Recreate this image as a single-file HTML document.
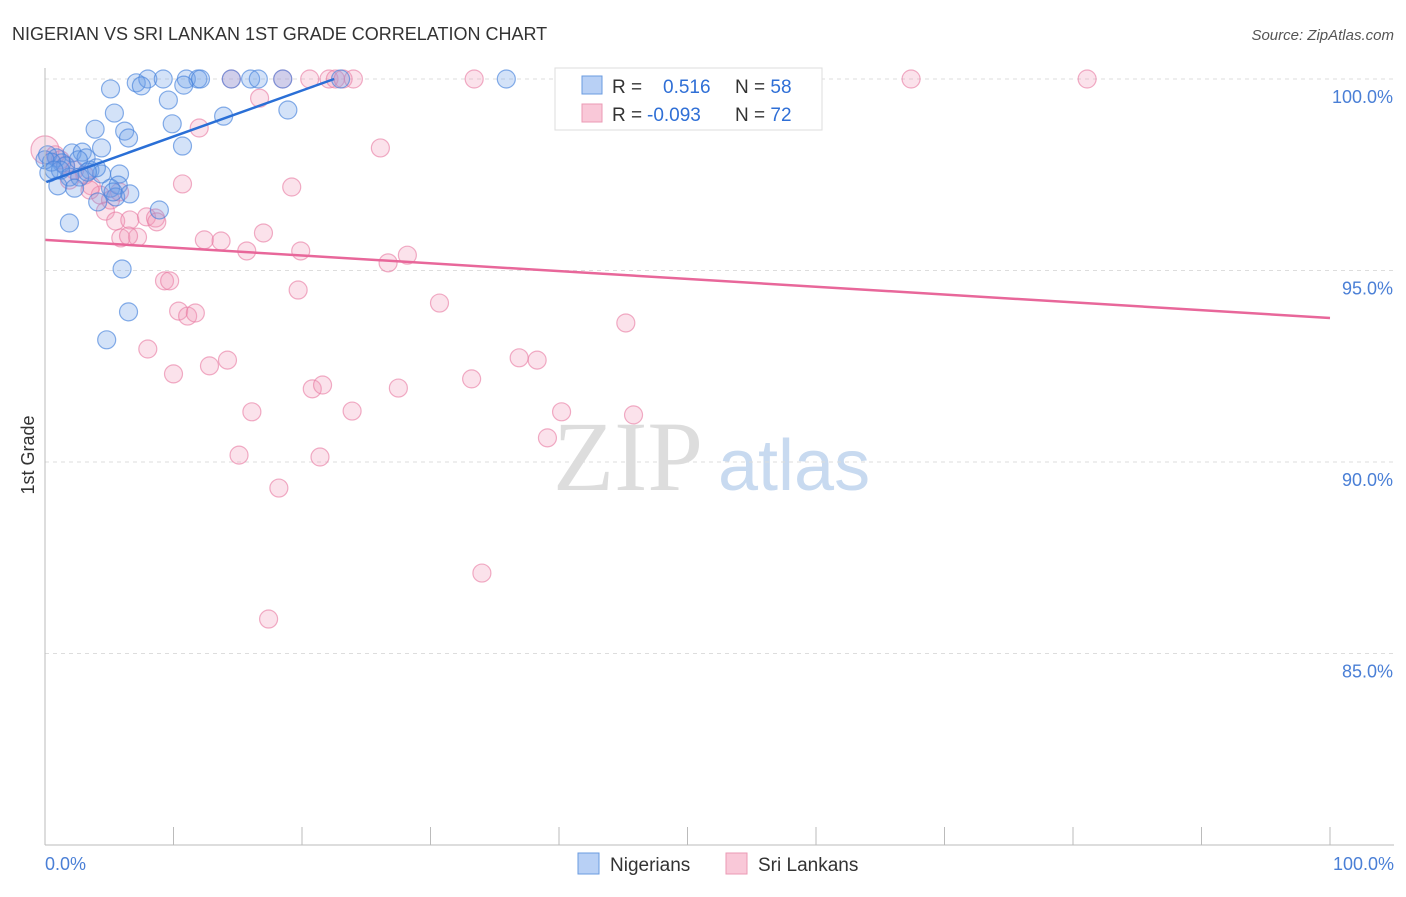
<!DOCTYPE html>
<html><head><meta charset="utf-8"><style>
body{margin:0;background:#fff;font-family:"Liberation Sans",sans-serif;}
svg text{font-family:"Liberation Sans",sans-serif;}
</style></head><body>
<svg width="1406" height="892" id="c">
<text x="12" y="40" font-size="18" fill="#333">NIGERIAN VS SRI LANKAN 1ST GRADE CORRELATION CHART</text>
<text x="1394" y="40" font-size="15" fill="#555" font-style="italic" text-anchor="end">Source: ZipAtlas.com</text>
<text x="34" y="455" font-size="18" fill="#333" transform="rotate(-90 34 455)" text-anchor="middle">1st Grade</text>
<text x="553" y="490" font-size="100" fill="#ddd" style="font-family:'Liberation Serif',serif">ZIP</text>
<text x="718" y="490" font-size="72" fill="#c8daf0">atlas</text>
<g id="grid"></g><g id="pts"></g><g id="lines"></g>
<line x1="45" y1="68" x2="45" y2="845" stroke="#bbb"/>
<line x1="45" y1="845" x2="1394" y2="845" stroke="#bbb"/>
<text x="45" y="870" font-size="18" fill="#4a7fd6">0.0%</text>
<text x="1394" y="870" font-size="18" fill="#4a7fd6" text-anchor="end">100.0%</text>
<g>
<rect x="555" y="68" width="267" height="62" fill="#fff" stroke="#ddd"/>
<rect x="582" y="76" width="20" height="18" fill="#b8d0f5" stroke="#6a9be0"/>
<rect x="582" y="104" width="20" height="18" fill="#f9c8d8" stroke="#eb9ab4"/>
<text x="612" y="93" font-size="19" fill="#333">R = <tspan fill="#2f6fd6" x="663">0.516</tspan><tspan x="735" fill="#333">N = </tspan><tspan fill="#2f6fd6">58</tspan></text>
<text x="612" y="121" font-size="19" fill="#333">R = <tspan fill="#2f6fd6" x="647">-0.093</tspan><tspan x="735" fill="#333">N = </tspan><tspan fill="#2f6fd6">72</tspan></text>
</g>
<g>
<rect x="578" y="853" width="21" height="21" fill="#b8d0f5" stroke="#6a9be0"/>
<text x="610" y="871" font-size="19" fill="#333">Nigerians</text>
<rect x="726" y="853" width="21" height="21" fill="#f9c8d8" stroke="#eb9ab4"/>
<text x="758" y="871" font-size="19" fill="#333">Sri Lankans</text>
</g>
</svg>
<script>
const yTicks=[100,95,90,85];
const yTickLabels=["100.0%","95.0%","90.0%","85.0%"];
const xTickVals=[0,10,20,30,40,50,60,70,80,90,100];
const blueX=[7.1,8.0,9.2,11.0,11.9,12.1,14.5,16.0,16.6,18.5,23.0,35.9,5.1,7.5,10.8,9.6,5.4,13.9,18.9,9.9,3.9,6.2,6.5,10.7,4.4,0.2,2.1,2.9,0.9,3.2,1.3,1.6,3.5,4.4,5.8,1.9,2.7,0.3,5.1,5.7,1.0,2.3,5.5,4.1,8.9,1.9,6.0,6.5,4.8,0.5,1.2,0,2.6,4.0,5.3,6.6,0.7,3.3];
const blueY=[99.9,100,100,100,100,100,100,100,100,100,100,100,99.74,99.82,99.84,99.45,99.11,99.03,99.19,98.83,98.69,98.64,98.46,98.25,98.2,98.02,98.07,98.09,97.94,97.94,97.81,97.73,97.62,97.52,97.52,97.44,97.44,97.55,97.15,97.23,97.21,97.15,96.92,96.79,96.58,96.24,95.04,93.92,93.19,97.83,97.62,97.89,97.89,97.68,97.05,97.0,97.62,97.57];
const pinkX=[0,0.8,1.2,1.6,2.3,3.1,3.6,4.3,4.7,5.5,5.9,6.6,7.2,7.9,8.6,8.7,6.5,9.3,9.7,10.7,12.0,8.0,10.0,10.4,11.1,11.7,12.4,13.7,12.8,14.2,15.7,16.7,17.0,16.1,15.1,18.2,17.4,19.2,19.9,19.7,20.8,21.4,21.6,23.9,26.1,26.7,27.5,28.2,30.7,33.2,34.0,36.9,38.3,39.1,40.2,45.2,45.8,14.5,20.6,22.1,22.6,23.2,24.0,33.4,41.3,67.4,81.1,18.5,3.5,1.9,5.1,5.8];
const pinkY=[98.15,98.02,97.89,97.75,97.62,97.49,97.21,96.97,96.55,96.29,95.85,96.32,95.87,96.4,96.37,96.27,95.9,94.73,94.73,97.26,98.72,92.95,92.3,93.94,93.81,93.89,95.8,95.77,92.51,92.66,95.51,99.5,95.98,91.31,90.18,89.32,85.9,97.18,95.51,94.49,91.91,90.13,92.01,91.33,98.2,95.2,91.93,95.4,94.15,92.17,87.1,92.72,92.66,90.63,91.31,93.63,91.23,100,100,100,100,100,100,100,100,100,100,100,97.1,97.36,96.84,97.05];
const blueTrendX=[0.1,22.5], blueTrendY=[97.31,100];
const pinkTrendX=[0,100], pinkTrendY=[95.8,93.76];
const sx=v=>45+v*12.85, sy=v=>79+(100-v)*38.3;
const NS="http://www.w3.org/2000/svg";
const mk=(t,a,p)=>{const e=document.createElementNS(NS,t);for(const k in a)e.setAttribute(k,a[k]);p.appendChild(e);return e;};
const grid=document.getElementById('grid'),pts=document.getElementById('pts'),lines=document.getElementById('lines');
yTicks.forEach((v,i)=>{
 const l=mk('line',{x1:45,x2:1394,y1:sy(v),y2:sy(v),stroke:'#ddd','stroke-dasharray':'4 4'},grid);
 
 
 const t=mk('text',{x:1393,y:sy(v)+24,'font-size':18,fill:'#4a7fd6','text-anchor':'end'},grid);
 t.textContent=yTickLabels[i];
 
 
});
xTickVals.forEach(v=>{
 const l=mk('line',{x1:sx(v),x2:sx(v),y1:827,y2:845,stroke:'#bbb'},grid);
 
 
});
pinkX.forEach((x,i)=>{
 const c=mk('circle',{cx:sx(x),cy:sy(pinkY[i]),r:i==0?14:9,fill:'rgba(242,150,182,0.28)',stroke:'rgba(232,120,160,0.6)','stroke-width':1.2},pts);
 
 
});
blueX.forEach((x,i)=>{
 const c=mk('circle',{cx:sx(x),cy:sy(blueY[i]),r:9,fill:'rgba(110,160,232,0.3)',stroke:'rgba(70,130,220,0.65)','stroke-width':1.2},pts);
 
 
});
const bl=mk('line',{x1:sx(blueTrendX[0]),y1:sy(blueTrendY[0]),x2:sx(blueTrendX[1]),y2:sy(blueTrendY[1]),stroke:'#2a6fd6','stroke-width':2.5},lines);


const pl=mk('line',{x1:sx(pinkTrendX[0]),y1:sy(pinkTrendY[0]),x2:sx(pinkTrendX[1]),y2:sy(pinkTrendY[1]),stroke:'#e8679a','stroke-width':2.5},lines);


</script>
</body></html>
